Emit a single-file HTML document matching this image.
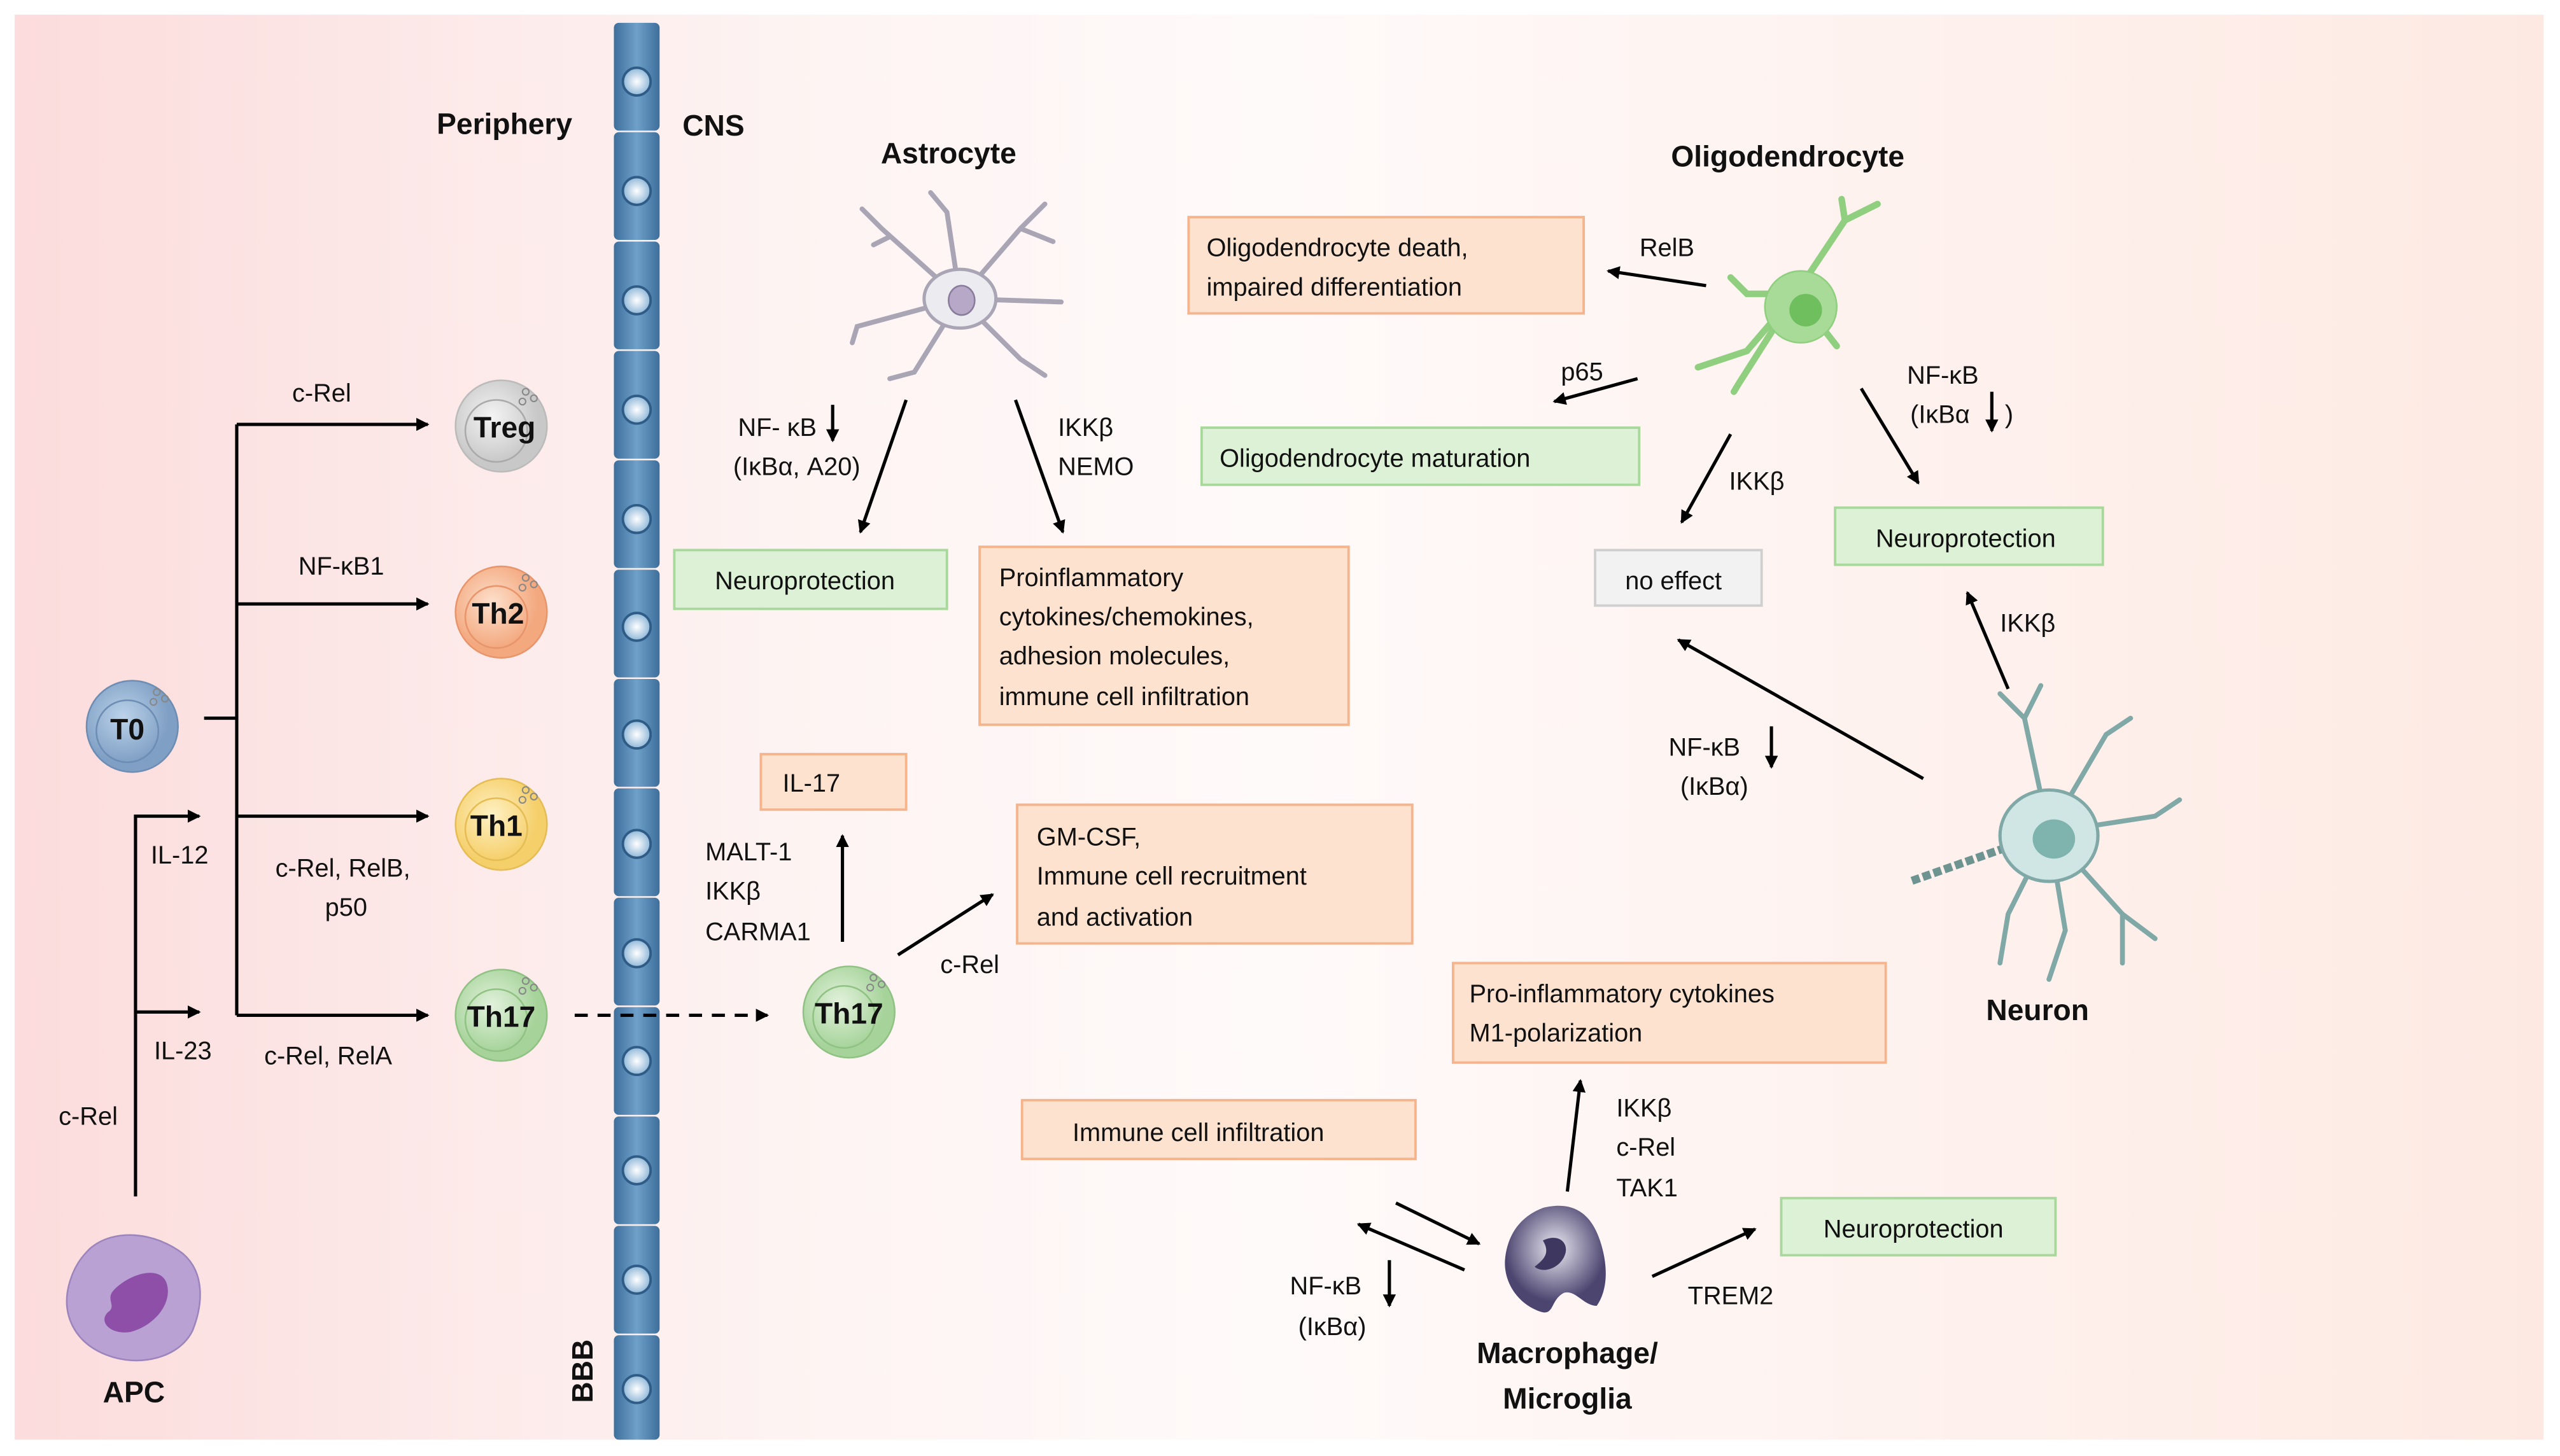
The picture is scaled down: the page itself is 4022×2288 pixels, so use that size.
<!DOCTYPE html>
<html><head><meta charset="utf-8"><style>
html,body{margin:0;padding:0;background:#fff;}
svg{display:block;}
text{font-family:"Liberation Sans",sans-serif;font-size:15.5px;fill:#111;}
.b{font-weight:bold;font-size:18px;}
.c{text-anchor:middle;}
</style></head><body>
<svg width="4022" height="2288" viewBox="0 0 1568 892" xmlns="http://www.w3.org/2000/svg">
<defs>
<linearGradient id="bg" x1="0" x2="1" y1="0" y2="0">
<stop offset="0" stop-color="#fcdcdc"/><stop offset="0.3" stop-color="#fdf3f2"/><stop offset="0.5" stop-color="#fffafa"/><stop offset="1" stop-color="#fde9e2"/></linearGradient>
<linearGradient id="bbb" x1="0" x2="1"><stop offset="0" stop-color="#3e6f9c"/><stop offset="0.5" stop-color="#6fa0c9"/><stop offset="1" stop-color="#3e6f9c"/></linearGradient>
<radialGradient id="nuc"><stop offset="0" stop-color="#fff"/><stop offset="1" stop-color="#8fb7d8"/></radialGradient>
<marker id="a" markerWidth="8" markerHeight="8" refX="7" refY="4" orient="auto" markerUnits="userSpaceOnUse"><path d="M0,0L8,4L0,8z" fill="#000"/></marker>
<radialGradient id="gT0" cx="0.4" cy="0.4"><stop offset="0" stop-color="#bcd3ea"/><stop offset="1" stop-color="#7f9fc4"/></radialGradient>
<radialGradient id="gTr" cx="0.4" cy="0.4"><stop offset="0" stop-color="#f4f4f4"/><stop offset="1" stop-color="#c8c8c8"/></radialGradient>
<radialGradient id="gTh2" cx="0.4" cy="0.4"><stop offset="0" stop-color="#fde0cc"/><stop offset="1" stop-color="#f3a87e"/></radialGradient>
<radialGradient id="gTh1" cx="0.4" cy="0.4"><stop offset="0" stop-color="#fff1c4"/><stop offset="1" stop-color="#f5cf6a"/></radialGradient>
<radialGradient id="gTh17" cx="0.4" cy="0.4"><stop offset="0" stop-color="#e2f2dc"/><stop offset="1" stop-color="#a6d39a"/></radialGradient>
<radialGradient id="gM" cx="0.5" cy="0.4"><stop offset="0" stop-color="#ecebf3"/><stop offset="1" stop-color="#4c4570"/></radialGradient>
</defs>
<rect x="0" y="0" width="1568" height="892" fill="#fff"/>
<rect x="9" y="9" width="1549" height="873" fill="url(#bg)"/>

<g>
<rect x="376" y="14" width="28" height="66" rx="3" fill="url(#bbb)"/><circle cx="390" cy="50" r="8.5" fill="url(#nuc)" stroke="#2f5c86" stroke-width="1.5"/>
<rect x="376" y="81" width="28" height="66" rx="3" fill="url(#bbb)"/><circle cx="390" cy="117" r="8.5" fill="url(#nuc)" stroke="#2f5c86" stroke-width="1.5"/>
<rect x="376" y="148" width="28" height="66" rx="3" fill="url(#bbb)"/><circle cx="390" cy="184" r="8.5" fill="url(#nuc)" stroke="#2f5c86" stroke-width="1.5"/>
<rect x="376" y="215" width="28" height="66" rx="3" fill="url(#bbb)"/><circle cx="390" cy="251" r="8.5" fill="url(#nuc)" stroke="#2f5c86" stroke-width="1.5"/>
<rect x="376" y="282" width="28" height="66" rx="3" fill="url(#bbb)"/><circle cx="390" cy="318" r="8.5" fill="url(#nuc)" stroke="#2f5c86" stroke-width="1.5"/>
<rect x="376" y="349" width="28" height="66" rx="3" fill="url(#bbb)"/><circle cx="390" cy="384" r="8.5" fill="url(#nuc)" stroke="#2f5c86" stroke-width="1.5"/>
<rect x="376" y="416" width="28" height="66" rx="3" fill="url(#bbb)"/><circle cx="390" cy="450" r="8.5" fill="url(#nuc)" stroke="#2f5c86" stroke-width="1.5"/>
<rect x="376" y="483" width="28" height="66" rx="3" fill="url(#bbb)"/><circle cx="390" cy="517" r="8.5" fill="url(#nuc)" stroke="#2f5c86" stroke-width="1.5"/>
<rect x="376" y="550" width="28" height="66" rx="3" fill="url(#bbb)"/><circle cx="390" cy="584" r="8.5" fill="url(#nuc)" stroke="#2f5c86" stroke-width="1.5"/>
<rect x="376" y="617" width="28" height="66" rx="3" fill="url(#bbb)"/><circle cx="390" cy="650" r="8.5" fill="url(#nuc)" stroke="#2f5c86" stroke-width="1.5"/>
<rect x="376" y="684" width="28" height="66" rx="3" fill="url(#bbb)"/><circle cx="390" cy="717" r="8.5" fill="url(#nuc)" stroke="#2f5c86" stroke-width="1.5"/>
<rect x="376" y="751" width="28" height="66" rx="3" fill="url(#bbb)"/><circle cx="390" cy="784" r="8.5" fill="url(#nuc)" stroke="#2f5c86" stroke-width="1.5"/>
<rect x="376" y="818" width="28" height="64" rx="3" fill="url(#bbb)"/><circle cx="390" cy="851" r="8.5" fill="url(#nuc)" stroke="#2f5c86" stroke-width="1.5"/>
</g>
<text class="b" x="309" y="82" text-anchor="middle">Periphery</text>
<text class="b" x="418" y="83">CNS</text>
<text class="b" transform="translate(363,840) rotate(-90)" text-anchor="middle">BBB</text>

<g stroke-width="1">
<circle cx="81" cy="445" r="28" fill="url(#gT0)" stroke="#6d8db4"/><circle cx="78" cy="448" r="19" fill="none" stroke="#6d8db4"/>
<circle cx="307" cy="261" r="28" fill="url(#gTr)" stroke="#bbb"/><circle cx="304" cy="264" r="19" fill="none" stroke="#aaa"/>
<circle cx="307" cy="375" r="28" fill="url(#gTh2)" stroke="#e9956c"/><circle cx="304" cy="378" r="19" fill="none" stroke="#e9956c"/>
<circle cx="307" cy="505" r="28" fill="url(#gTh1)" stroke="#e6bd55"/><circle cx="304" cy="508" r="19" fill="none" stroke="#e6bd55"/>
<circle cx="307" cy="622" r="28" fill="url(#gTh17)" stroke="#90c284"/><circle cx="304" cy="625" r="19" fill="none" stroke="#90c284"/>
<circle cx="520" cy="620" r="28" fill="url(#gTh17)" stroke="#90c284"/><circle cx="517" cy="623" r="19" fill="none" stroke="#90c284"/>
</g>
<g fill="none" stroke="#888" stroke-width="0.8">
<circle cx="96" cy="424" r="2"/><circle cx="101" cy="428" r="2"/><circle cx="94" cy="430" r="2"/>
<circle cx="322" cy="240" r="2"/><circle cx="327" cy="244" r="2"/><circle cx="320" cy="246" r="2"/>
<circle cx="322" cy="354" r="2"/><circle cx="327" cy="358" r="2"/><circle cx="320" cy="360" r="2"/>
<circle cx="322" cy="484" r="2"/><circle cx="327" cy="488" r="2"/><circle cx="320" cy="490" r="2"/>
<circle cx="322" cy="601" r="2"/><circle cx="327" cy="605" r="2"/><circle cx="320" cy="607" r="2"/>
<circle cx="535" cy="599" r="2"/><circle cx="540" cy="603" r="2"/><circle cx="533" cy="605" r="2"/>
</g>
<text class="b c" x="78" y="453">T0</text>
<text class="b c" x="309" y="268">Treg</text>
<text class="b c" x="305" y="382">Th2</text>
<text class="b c" x="304" y="512">Th1</text>
<text class="b c" x="307" y="629">Th17</text>
<text class="b c" x="520" y="627">Th17</text>

<path d="M55,765 C70,752 95,755 112,768 C126,780 124,800 118,815 C110,832 85,838 65,830 C45,822 38,805 42,788 C45,776 50,770 55,765z" fill="#b9a2d3" stroke="#9c84bd"/>
<path d="M70,790 C80,780 98,775 102,786 C106,798 95,812 80,816 C68,818 60,810 66,804 C72,800 64,796 70,790z" fill="#8d4fa8"/>
<text class="b c" x="82" y="859">APC</text>

<g stroke="#000" stroke-width="2" fill="none">
<path d="M125,440H145"/><path d="M145,260V622"/>
<path d="M145,260H262" marker-end="url(#a)"/>
<path d="M145,370H262" marker-end="url(#a)"/>
<path d="M145,500H262" marker-end="url(#a)"/>
<path d="M145,622H262" marker-end="url(#a)"/>
<path d="M83,733V500H122" marker-end="url(#a)"/>
<path d="M83,620H122" marker-end="url(#a)"/>
<path d="M352,622H470" stroke-dasharray="8,6" marker-end="url(#a)"/>
</g>
<text class="c" x="197" y="246">c-Rel</text>
<text class="c" x="209" y="352">NF-κB1</text>
<text class="c" x="210" y="537">c-Rel, RelB,</text>
<text class="c" x="212" y="561">p50</text>
<text class="c" x="201" y="652">c-Rel, RelA</text>
<text class="c" x="110" y="529">IL-12</text>
<text class="c" x="112" y="649">IL-23</text>
<text class="c" x="54" y="689">c-Rel</text>

<text class="b c" x="581" y="100">Astrocyte</text>
<g stroke="#a9a5b5" stroke-width="3" fill="none" stroke-linecap="round">
<path d="M588,183 L540,140 L528,128 M545,145 L535,150"/>
<path d="M588,183 L580,130 L570,118"/>
<path d="M588,183 L625,140 L640,125 M625,140 L645,148"/>
<path d="M588,183 L650,185"/>
<path d="M588,183 L625,220 L640,230"/>
<path d="M588,183 L560,228 L545,232"/>
<path d="M588,183 L525,200 L522,210"/>
</g>
<ellipse cx="588" cy="183" rx="22" ry="18" fill="#ecebf0" stroke="#a9a5b5" stroke-width="2"/>
<ellipse cx="589" cy="184" rx="8" ry="9" fill="#b8a8c8" stroke="#8a7c9c"/>

<g stroke="#000" stroke-width="2" fill="none">
<path d="M555,245L527,326" marker-end="url(#a)"/>
<path d="M622,245L651,326" marker-end="url(#a)"/>
<path d="M516,577V512" marker-end="url(#a)"/>
<path d="M550,585L608,548" marker-end="url(#a)"/>
<path d="M1045,175L985,166" marker-end="url(#a)"/>
<path d="M1003,232L952,246" marker-end="url(#a)"/>
<path d="M1060,266L1030,320" marker-end="url(#a)"/>
<path d="M1140,238L1175,296" marker-end="url(#a)"/>
<path d="M1230,422L1205,363" marker-end="url(#a)"/>
<path d="M1178,477L1028,392" marker-end="url(#a)"/>
<path d="M960,730L968,662" marker-end="url(#a)"/>
<path d="M855,737L906,762" marker-end="url(#a)"/>
<path d="M897,778L832,750" marker-end="url(#a)"/>
<path d="M1012,782L1075,753" marker-end="url(#a)"/>
<path d="M851,772V800" marker-end="url(#a)"/>
<path d="M1085,445V470" marker-end="url(#a)"/>
<path d="M1220,240V264" marker-end="url(#a)"/>
<path d="M510,248V270" marker-end="url(#a)"/>
</g>
<text x="452" y="267">NF- κB</text>
<text class="c" x="488" y="291">(IκBα, A20)</text>
<text x="648" y="267">IKKβ</text>
<text x="648" y="291">NEMO</text>

<g stroke-width="1.5">
<rect x="413" y="337" width="167" height="36" fill="#dcf1d6" stroke="#a8d89c"/>
<rect x="600" y="335" width="226" height="109" fill="#fde2d0" stroke="#f5b48c"/>
<rect x="466" y="462" width="89" height="34" fill="#fde2d0" stroke="#f5b48c"/>
<rect x="623" y="493" width="242" height="85" fill="#fde2d0" stroke="#f5b48c"/>
<rect x="728" y="133" width="242" height="59" fill="#fde2d0" stroke="#f5b48c"/>
<rect x="736" y="262" width="268" height="35" fill="#dcf1d6" stroke="#a8d89c"/>
<rect x="977" y="337" width="102" height="34" fill="#f2f2f2" stroke="#cfcfcf"/>
<rect x="1124" y="311" width="164" height="35" fill="#dcf1d6" stroke="#a8d89c"/>
<rect x="890" y="590" width="265" height="61" fill="#fde2d0" stroke="#f5b48c"/>
<rect x="626" y="674" width="241" height="36" fill="#fde2d0" stroke="#f5b48c"/>
<rect x="1091" y="734" width="168" height="35" fill="#dcf1d6" stroke="#a8d89c"/>
</g>
<text class="c" x="493" y="361">Neuroprotection</text>
<text x="612" y="359">Proinflammatory</text>
<text x="612" y="383">cytokines/chemokines,</text>
<text x="612" y="407">adhesion molecules,</text>
<text x="612" y="432">immune cell infiltration</text>
<text class="c" x="497" y="485">IL-17</text>
<text x="432" y="527">MALT-1</text>
<text x="432" y="551">IKKβ</text>
<text x="432" y="576">CARMA1</text>
<text class="c" x="594" y="596">c-Rel</text>
<text x="635" y="518">GM-CSF,</text>
<text x="635" y="542">Immune cell recruitment</text>
<text x="635" y="567">and activation</text>

<text class="b c" x="1095" y="102">Oligodendrocyte</text>
<g stroke="#8fcf7f" stroke-width="4" fill="none" stroke-linecap="round">
<path d="M1100,180 L1130,135 L1150,125 M1130,135 L1128,122"/>
<path d="M1100,180 L1070,180 L1060,170"/>
<path d="M1100,180 L1070,215 L1040,225"/>
<path d="M1100,180 L1065,235 L1062,240"/>
<path d="M1100,180 L1125,212"/>
</g>
<circle cx="1103" cy="188" r="22" fill="#a8db98" stroke="#8fcf7f"/>
<circle cx="1106" cy="190" r="10" fill="#6fbf5e"/>
<text x="739" y="157">Oligodendrocyte death,</text>
<text x="739" y="181">impaired differentiation</text>
<text class="c" x="1021" y="157">RelB</text>
<text class="c" x="969" y="233">p65</text>
<text x="747" y="286">Oligodendrocyte maturation</text>
<text class="c" x="1076" y="300">IKKβ</text>
<text class="c" x="1025" y="361">no effect</text>
<text class="c" x="1190" y="235">NF-κB</text>
<text x="1170" y="259">(IκBα</text>
<text x="1228" y="259">)</text>
<text class="c" x="1204" y="335">Neuroprotection</text>
<text class="c" x="1242" y="387">IKKβ</text>
<text x="1022" y="463">NF-κB</text>
<text class="c" x="1050" y="487">(IκBα)</text>

<g stroke="#7fa8a6" stroke-width="3" fill="none" stroke-linecap="round">
<path d="M1255,510 L1240,440 L1225,425 M1240,440 L1250,420"/>
<path d="M1255,510 L1290,450 L1305,440"/>
<path d="M1255,510 L1320,500 L1335,490"/>
<path d="M1255,510 L1300,560 L1320,575 M1300,560 L1300,590"/>
<path d="M1255,510 L1265,570 L1255,600"/>
<path d="M1255,510 L1230,560 L1225,590"/>
</g>
<path d="M1255,510 L1170,540" stroke="#6e9492" stroke-width="5" stroke-dasharray="5,2"/>
<ellipse cx="1255" cy="512" rx="30" ry="28" fill="#cfe6e4" stroke="#7fa8a6" stroke-width="2"/>
<ellipse cx="1258" cy="514" rx="13" ry="12" fill="#7fb3ae"/>
<text class="b c" x="1248" y="625">Neuron</text>

<path d="M945,740 C965,735 975,745 980,760 C985,775 985,790 978,800 C970,800 965,790 958,792 C950,796 952,805 945,804 C930,800 920,785 922,770 C924,755 932,745 945,740z" fill="url(#gM)"/>
<path d="M945,760 C955,755 962,762 958,770 C954,778 944,780 940,776 C945,772 950,768 945,760z" fill="#3e3760"/>
<text class="b c" x="960" y="835">Macrophage/</text>
<text class="b c" x="960" y="863">Microglia</text>
<text x="900" y="614">Pro-inflammatory cytokines</text>
<text x="900" y="638">M1-polarization</text>
<text x="990" y="684">IKKβ</text>
<text x="990" y="708">c-Rel</text>
<text x="990" y="733">TAK1</text>
<text class="c" x="734" y="699">Immune cell infiltration</text>
<text class="c" x="812" y="793">NF-κB</text>
<text class="c" x="816" y="818">(IκBα)</text>
<text class="c" x="1060" y="799">TREM2</text>
<text class="c" x="1172" y="758">Neuroprotection</text>
</svg>
</body></html>
